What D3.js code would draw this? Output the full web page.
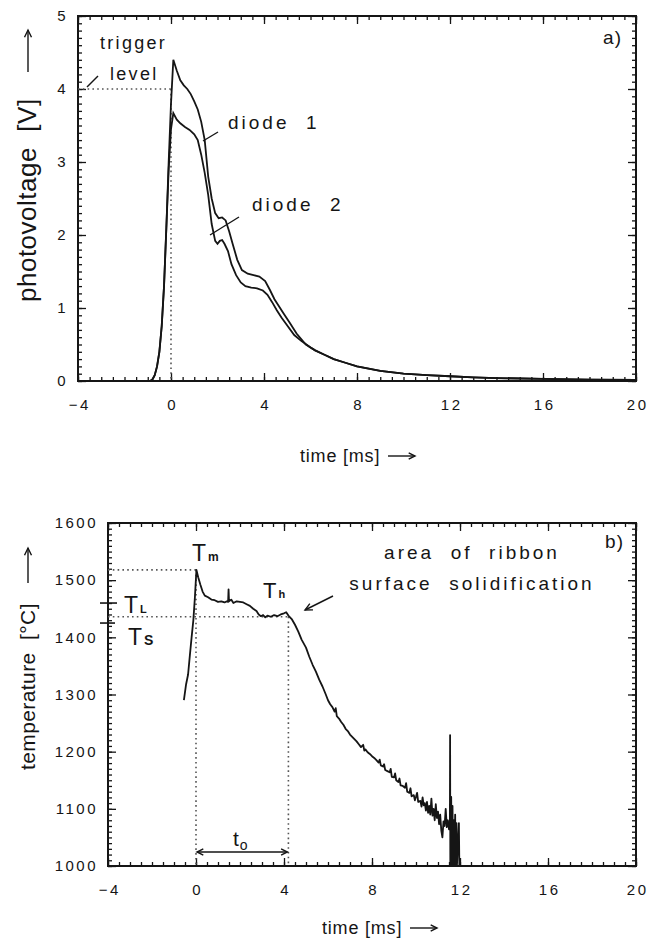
<!DOCTYPE html>
<html>
<head>
<meta charset="utf-8">
<script src="https://cdn.jsdelivr.net/npm/d3@7"></script>
<style>
  body { margin: 0; background: #fff; }
  svg text { font-family: "Liberation Sans", Arial, sans-serif; fill: #151515; white-space: pre; }
</style>
</head>
<body>
<svg id="chart" width="651" height="947"></svg>
<script>
// ---- panel a: photovoltage of the two diodes ----
var timeD1 = [-4, -0.9, -0.8, -0.7, -0.6, -0.5, -0.4, -0.3, -0.2, -0.1, 0.0, 0.1, 0.25, 0.4, 0.55, 0.7, 0.85, 1.0, 1.15, 1.3, 1.45, 1.6, 1.75, 1.9, 2.05, 2.2, 2.35, 2.5, 2.65, 2.85, 3.05, 3.3, 3.55, 3.8, 4.05, 4.25, 4.45, 4.65, 4.85, 5.1, 5.4, 5.8, 6.2, 6.6, 7.0, 7.5, 8.0, 9.0, 10.0, 11.0, 12.0, 13.0, 14.0, 16.0, 18.0, 20.0];
var voltD1 = [0, 0, 0.02, 0.08, 0.2, 0.4, 0.75, 1.3, 2.1, 3.0, 3.8, 4.4, 4.25, 4.12, 4.05, 4.0, 3.93, 3.83, 3.72, 3.55, 3.3, 2.8, 2.5, 2.3, 2.23, 2.24, 2.2, 2.05, 1.88, 1.66, 1.52, 1.47, 1.45, 1.43, 1.37, 1.25, 1.12, 1.02, 0.92, 0.8, 0.65, 0.5, 0.42, 0.36, 0.3, 0.25, 0.2, 0.14, 0.1, 0.08, 0.065, 0.05, 0.04, 0.03, 0.02, 0.015];

var timeD2 = [-4, -0.9, -0.8, -0.7, -0.6, -0.5, -0.4, -0.3, -0.2, -0.1, 0.0, 0.1, 0.25, 0.4, 0.6, 0.8, 1.0, 1.15, 1.3, 1.45, 1.6, 1.75, 1.9, 2.0, 2.1, 2.2, 2.3, 2.45, 2.6, 2.8, 3.0, 3.2, 3.45, 3.7, 3.95, 4.15, 4.35, 4.55, 4.75, 5.0, 5.3, 5.6, 6.0, 6.2, 6.6, 7.0, 7.5, 8.0, 9.0, 10.0, 11.0, 12.0, 13.0, 14.0, 16.0, 18.0, 20.0];
var voltD2 = [0, 0, 0.02, 0.08, 0.2, 0.4, 0.75, 1.3, 2.1, 2.9, 3.45, 3.67, 3.58, 3.53, 3.48, 3.44, 3.38, 3.3, 3.1, 2.85, 2.55, 2.15, 1.92, 1.88, 1.92, 1.93, 1.88, 1.78, 1.6, 1.45, 1.35, 1.3, 1.28, 1.27, 1.24, 1.18, 1.08, 0.97, 0.87, 0.76, 0.63, 0.55, 0.46, 0.42, 0.36, 0.3, 0.25, 0.2, 0.14, 0.1, 0.08, 0.065, 0.05, 0.04, 0.03, 0.02, 0.015];

var triggerLevel = 4;

// ---- panel b: pyrometer temperature ----
var timeT = [-0.55, -0.45, -0.36, -0.28, -0.2, -0.12, -0.05, 0.02, 0.1, 0.2, 0.3, 0.4, 0.55, 0.7, 0.85, 1.0, 1.15, 1.3, 1.4, 1.46, 1.48, 1.5, 1.6, 1.7, 1.85, 2.0, 2.15, 2.3, 2.45, 2.6, 2.75, 2.85, 2.95, 3.05, 3.15, 3.25, 3.4, 3.55, 3.7, 3.85, 4.0, 4.1, 4.2, 4.35, 4.5, 4.65, 4.8, 5.0, 5.15, 5.3, 5.45, 5.6, 5.75, 5.9,
    6.0, 6.1, 6.2, 6.3, 6.35, 6.4, 6.5, 6.6, 6.7, 6.8, 6.9, 7.0, 7.1, 7.2, 7.3, 7.4, 7.5, 7.6, 7.65, 7.7, 7.8, 7.9, 8.0, 8.1, 8.2, 8.3, 8.35, 8.4, 8.5, 8.55, 8.6, 8.7, 8.8, 8.85, 8.9, 9.0, 9.05, 9.1, 9.2, 9.25, 9.3, 9.4, 9.5, 9.55, 9.6, 9.7, 9.75, 9.8, 9.9, 9.95, 10.0, 10.05, 10.1, 10.2, 10.25, 10.3, 10.35, 10.4, 10.45, 10.5, 10.55, 10.6, 10.65, 10.7, 10.75, 10.8, 10.85, 10.9, 10.95, 11.0, 11.05, 11.1, 11.15, 11.2, 11.25, 11.3, 11.35, 11.4, 11.45, 11.5,
    11.54, 11.55, 11.56, 11.6, 11.62, 11.66, 11.68, 11.72, 11.74, 11.78, 11.8, 11.84, 11.86, 11.95, 11.97];
var tempT = [1290, 1318, 1335, 1368, 1400, 1430, 1470, 1518, 1505, 1492, 1480, 1473, 1470, 1466, 1465, 1462, 1463, 1461, 1463, 1462, 1484, 1463, 1466, 1460, 1463, 1462, 1461, 1458, 1455, 1450, 1446, 1440, 1437, 1439, 1435, 1438, 1436, 1439, 1437, 1440, 1442, 1444, 1438, 1432, 1422, 1410, 1396, 1382, 1366, 1352, 1340, 1326, 1314, 1300,
    1290, 1283, 1278, 1270, 1276, 1262, 1258, 1252, 1247, 1240, 1236, 1230, 1226, 1222, 1218, 1213, 1208, 1212, 1202, 1204, 1199, 1196, 1192, 1189, 1185, 1181, 1186, 1176, 1174, 1178, 1168, 1166, 1164, 1170, 1156, 1155, 1162, 1150, 1147, 1153, 1141, 1140, 1137, 1145, 1130, 1128, 1136, 1122, 1124, 1115, 1121, 1128, 1112, 1114, 1104, 1120, 1106, 1110, 1097, 1112, 1093, 1105, 1090, 1118, 1088, 1100, 1080, 1108, 1084, 1095, 1073, 1090, 1062, 1050, 1078, 1070, 1100, 1068, 1080, 1064,
    1070, 1229, 1000, 1121, 1000, 1105, 1000, 1080, 1000, 1090, 1000, 1075, 1000, 1075, 1000];

var tempMelt = 1518, tempHold = 1436, tempLiquidus = 1460, tempSolidus = 1425;
var timeHoldEnd = 4.2;

var timeTicks = [-4, 0, 4, 8, 12, 16, 20];
var voltTicks = [0, 1, 2, 3, 4, 5];
var tempTicks = [1000, 1100, 1200, 1300, 1400, 1500, 1600];

//---------------------------------------------------------------
var svg = d3.select("#chart");
svg.append("rect").attr("width", 651).attr("height", 947).attr("fill", "#fff");

var xA = d3.scaleLinear().domain([-4, 20]).range([78, 636]),
    yA = d3.scaleLinear().domain([0, 5]).range([381, 16]),
    xB = d3.scaleLinear().domain([-4, 20]).range([108, 636]),
    yB = d3.scaleLinear().domain([1000, 1600]).range([866, 523]);

//---------------------------------------------------------------
function drawFrame(x, y, yMajor, yMinorStep){
    var xMinor = d3.range(-4, 20.01, 0.5),
        y0 = y.domain()[0], y1 = y.domain()[1],
        yMinor = d3.range(y0, y1 + yMinorStep / 2, yMinorStep);
    var x0p = x.range()[0], x1p = x.range()[1],
        y0p = y.range()[0], y1p = y.range()[1];

    function ax(gen, tr, vals, size){
        var g = svg.append("g").attr("transform", tr)
            .call(gen.tickValues(vals).tickSizeInner(size).tickSizeOuter(0).tickFormat(""));
        g.select(".domain").remove();
        g.selectAll(".tick line").attr("stroke", "#151515").attr("stroke-width", 1.3);
        return g;
    }
    // minor ticks, inward on all four sides
    ax(d3.axisBottom(x), "translate(0," + y0p + ")", xMinor, -4);
    ax(d3.axisTop(x), "translate(0," + y1p + ")", xMinor, -4);
    ax(d3.axisLeft(y), "translate(" + x0p + ",0)", yMinor, -4);
    ax(d3.axisRight(y), "translate(" + x1p + ",0)", yMinor, -4);
    // major ticks
    ax(d3.axisBottom(x), "translate(0," + y0p + ")", timeTicks, -8);
    ax(d3.axisTop(x), "translate(0," + y1p + ")", timeTicks, -8);
    ax(d3.axisLeft(y), "translate(" + x0p + ",0)", yMajor, -8);
    ax(d3.axisRight(y), "translate(" + x1p + ",0)", yMajor, -8);

    // labels
    var gx = svg.append("g").attr("transform", "translate(0," + y0p + ")")
        .call(d3.axisBottom(x).tickValues(timeTicks).tickSize(0).tickPadding(18).tickFormat(d3.format("d")));
    gx.select(".domain").remove();
    var gy = svg.append("g").attr("transform", "translate(" + x0p + ",0)")
        .call(d3.axisLeft(y).tickValues(yMajor).tickSize(0).tickPadding(10).tickFormat(d3.format("d")));
    gy.select(".domain").remove();
    svg.selectAll(".tick text").attr("font-family", "Liberation Sans").attr("font-size", 15)
        .attr("letter-spacing", 2.5).attr("fill", "#151515");
    gx.selectAll(".tick text").attr("dx", "0.08em");

    svg.append("rect").attr("x", x0p).attr("y", y1p)
        .attr("width", x1p - x0p).attr("height", y0p - y1p)
        .attr("fill", "none").attr("stroke", "#151515").attr("stroke-width", 2);
}

function dotted(x1, y1, x2, y2){
    svg.append("line").attr("x1", x1).attr("y1", y1).attr("x2", x2).attr("y2", y2)
        .attr("stroke", "#555").attr("stroke-width", 1.6)
        .attr("stroke-dasharray", "1.6,3.2");
}

function plainLine(x1, y1, x2, y2, w){
    svg.append("line").attr("x1", x1).attr("y1", y1).attr("x2", x2).attr("y2", y2)
        .attr("stroke", "#151515").attr("stroke-width", w || 1.4);
}

function arrowHead(x, y, angle, size){
    // small open arrow head, angle in degrees of the direction it points
    var a = angle * Math.PI / 180, s = size || 7;
    var p1 = [x - s * Math.cos(a - 0.45), y - s * Math.sin(a - 0.45)],
        p2 = [x - s * Math.cos(a + 0.45), y - s * Math.sin(a + 0.45)];
    svg.append("path").attr("d", "M" + p1 + "L" + x + "," + y + "L" + p2)
        .attr("fill", "none").attr("stroke", "#151515").attr("stroke-width", 1.4);
}

function label(x, y, txt, size, anchor, ls){
    return svg.append("text").attr("x", x).attr("y", y).text(txt)
        .attr("font-size", size).attr("text-anchor", anchor || "start")
        .attr("letter-spacing", ls || 0);
}

//---------------------------------------------------------------
// panel a
drawFrame(xA, yA, voltTicks, 0.1);

dotted(xA(-4), yA(triggerLevel), xA(0), yA(triggerLevel));
dotted(xA(0), yA(triggerLevel), xA(0), yA(0));

var lineA = d3.line().x(function(d){ return xA(d[0]); }).y(function(d){ return yA(d[1]); });
svg.append("path").datum(d3.zip(timeD2, voltD2)).attr("d", lineA)
    .attr("fill", "none").attr("stroke", "#151515").attr("stroke-width", 1.8);
svg.append("path").datum(d3.zip(timeD1, voltD1)).attr("d", lineA)
    .attr("fill", "none").attr("stroke", "#151515").attr("stroke-width", 1.8);

label(100, 49, "trigger", 18, "start", 2.3);
label(110, 80, "level", 18, "start", 2.3);
plainLine(87, 87, 98, 76);

label(228, 129, "diode  1", 19, "start", 3);
plainLine(203, 141, 218, 132);
label(252, 211, "diode  2", 19, "start", 3);
plainLine(210, 235, 239, 217);

label(622, 44, "a)", 19, "end", 1);

// axis titles
label(300, 462, "time [ms]", 18, "start", 0.8);
plainLine(388, 456, 415, 456, 1.4);
arrowHead(415, 456, 0, 7);

svg.append("text").attr("transform", "translate(36,302) rotate(-90)")
    .text("photovoltage  [V]").attr("font-size", 26).attr("letter-spacing", 0.5);
plainLine(28, 72, 28, 30, 1.4);
arrowHead(28, 30, -90, 8);

//---------------------------------------------------------------
// panel b
drawFrame(xB, yB, tempTicks, 10);

dotted(xB(-4), yB(tempMelt), xB(0), yB(tempMelt));
dotted(xB(-4), yB(tempHold), xB(timeHoldEnd), yB(tempHold));
dotted(xB(0), yB(tempMelt), xB(0), yB(1000));
dotted(xB(timeHoldEnd), yB(tempHold), xB(timeHoldEnd), yB(1000));

var lineB = d3.line().x(function(d){ return xB(d[0]); }).y(function(d){ return yB(d[1]); });
svg.append("path").datum(d3.zip(timeT, tempT)).attr("d", lineB)
    .attr("fill", "none").attr("stroke", "#151515").attr("stroke-width", 1.8)
    .attr("stroke-linejoin", "round");

// liquidus / solidus marks on the left axis
plainLine(xB(-4) - 8, yB(tempLiquidus), xB(-4) + 9, yB(tempLiquidus), 1.6);
plainLine(xB(-4) - 8, yB(tempSolidus), xB(-4) + 7, yB(tempSolidus), 1.6);

function tLabel(x, y, sub, size, subSize){
    var t = svg.append("text").attr("x", x).attr("y", y).attr("font-size", size);
    t.append("tspan").text("T");
    t.append("tspan").text(sub).attr("font-size", subSize).attr("font-weight", "bold")
        .attr("dx", 2).attr("dy", 0);
}
tLabel(124, 613, "L", 23, 11);
tLabel(128, 645, "S", 23, 14);
tLabel(192, 561, "m", 23, 12);
tLabel(263, 598, "h", 22, 11);

label(472, 559, "area  of  ribbon", 19, "middle", 3);
label(472, 590, "surface  solidification", 19, "middle", 3);
plainLine(333, 596, 305, 610, 1.4);
arrowHead(305, 610, 153, 8);

label(624, 548, "b)", 19, "end", 1);

// holding time arrow
svg.append("text").attr("x", 233).attr("y", 846).attr("font-size", 21)
    .call(function(t){
        t.append("tspan").text("t");
        t.append("tspan").text("o").attr("font-size", 14).attr("dy", 4).attr("dx", 1);
    });
plainLine(xB(0) + 1, 852, xB(timeHoldEnd) - 1, 852, 1.4);
arrowHead(xB(0) + 1, 852, 180, 7);
arrowHead(xB(timeHoldEnd) - 1, 852, 0, 7);

label(322, 934, "time [ms]", 18, "start", 0.8);
plainLine(410, 928, 437, 928, 1.4);
arrowHead(437, 928, 0, 7);

svg.append("text").attr("transform", "translate(35,770) rotate(-90)")
    .text("temperature  [\u00B0C]").attr("font-size", 21).attr("letter-spacing", 0.4);
plainLine(28, 583, 28, 548, 1.4);
arrowHead(28, 548, -90, 8);
</script>
</body>
</html>
